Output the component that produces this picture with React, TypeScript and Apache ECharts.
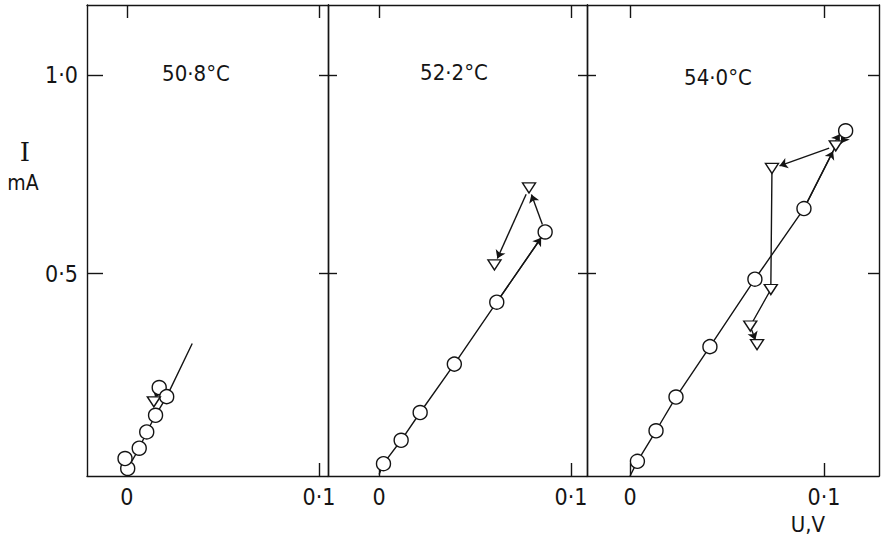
import React, { useEffect, useRef } from 'react';
import * as echarts from 'echarts';

// ---------- data ----------
const xTickValues = [0, 0.1];
const yTickValues = [0.5, 1.0];
const panelTitles = ['50·8°C', '52·2°C', '54·0°C'];
const yAxisTitle = 'I';
const yAxisUnit = 'mA';
const xAxisTitle = 'U,V';

// panel 1 (50.8 °C)
const p1Circles = [[0.0004, 0.009], [-0.001, 0.034], [0.0064, 0.060], [0.0103, 0.101], [0.0149, 0.143], [0.0168, 0.213], [0.0207, 0.190]];
const p1Triangles = [[0.014, 0.177]];
const p1FitEnd = [0.034, 0.324];

// panel 2 (52.2 °C)
const p2Origin = [0, -0.006];
const p2Circles = [[0.0023, 0.021], [0.0115, 0.080], [0.0214, 0.150], [0.0392, 0.272], [0.0613, 0.428], [0.0865, 0.605]];
const p2Triangles = [[0.0781, 0.716], [0.0601, 0.522]];

// panel 3 (54.0 °C)
const p3Origin = [0, -0.01];
const p3Circles = [[0.0038, 0.027], [0.0134, 0.104], [0.0237, 0.189], [0.0412, 0.316], [0.0644, 0.486], [0.0897, 0.664], [0.1112, 0.860]];
const p3Triangles = [[0.1061, 0.822], [0.0732, 0.765], [0.0726, 0.460], [0.0620, 0.368], [0.0655, 0.321]];

// ---------- styling / layout ----------
const INK = '#141414';
const FONT = "'DejaVu Sans Condensed', 'DejaVu Sans', sans-serif";
const GRID_TOP = 5;
const GRID_H = 471;
const Y_MIN = -0.01;
const Y_MAX = 1.177;
const panels = [
  { left: 87, width: 241, xMin: -0.0208, xMax: 0.1047 },
  { left: 328, width: 259, xMin: -0.0266, xMax: 0.1083 },
  { left: 587, width: 292, xMin: -0.0222, xMax: 0.1284 },
];
const LW = 1.4;

const fmt = (v: number) => (Math.abs(v) < 1e-9 ? '0' : v.toFixed(1).replace('.', '·'));

type Pt = number[];

function seg(i: number, p: Pt, q: Pt, startGap: number, endGap: number, offset = 0) {
  const P = panels[i];
  const kx = P.width / (P.xMax - P.xMin);
  const ky = GRID_H / (Y_MAX - Y_MIN);
  const dx = (q[0] - p[0]) * kx;
  const dy = (q[1] - p[1]) * ky;
  const len = Math.hypot(dx, dy) || 1;
  const ux = dx / len;
  const uy = dy / len;
  const ox = -uy * offset;
  const oy = ux * offset;
  return [
    [p[0] + (ux * startGap + ox) / kx, p[1] + (uy * startGap + oy) / ky],
    [q[0] - (ux * endGap - ox) / kx, q[1] - (uy * endGap - oy) / ky],
  ];
}

function App() {
  const ref = useRef<HTMLDivElement>(null);
  useEffect(() => {
    if (!ref.current) return;
    const chart = echarts.init(ref.current, undefined, { renderer: 'svg' });

    const grids = panels.map((p) => ({ left: p.left, top: GRID_TOP, width: p.width, height: GRID_H, containLabel: false }));
    const axisLine = { show: true, onZero: false, lineStyle: { color: INK, width: LW } };
    const xAxes: any[] = [];
    const yAxes: any[] = [];
    panels.forEach((p, i) => {
      xAxes.push({
        type: 'value', gridIndex: i, position: 'bottom', min: p.xMin, max: p.xMax,
        axisLine,
        axisTick: { show: true, inside: true, length: 13, customValues: xTickValues, lineStyle: { color: INK, width: LW } },
        axisLabel: { show: true, customValues: xTickValues, formatter: fmt, color: INK, fontFamily: FONT, fontSize: 23, margin: 9 },
        splitLine: { show: false },
      });
      xAxes.push({
        type: 'value', gridIndex: i, position: 'top', min: p.xMin, max: p.xMax,
        axisLine,
        axisTick: { show: true, inside: true, length: 13, customValues: xTickValues, lineStyle: { color: INK, width: LW } },
        axisLabel: { show: false },
        splitLine: { show: false },
      });
      yAxes.push({
        type: 'value', gridIndex: i, position: 'left', min: Y_MIN, max: Y_MAX,
        axisLine,
        axisTick: { show: true, inside: true, length: i === 0 ? 16 : 9, customValues: yTickValues, lineStyle: { color: INK, width: LW } },
        axisLabel: { show: i === 0, customValues: yTickValues, formatter: fmt, color: INK, fontFamily: FONT, fontSize: 23, margin: 9 },
        splitLine: { show: false },
      });
      yAxes.push({
        type: 'value', gridIndex: i, position: 'right', min: Y_MIN, max: Y_MAX,
        axisLine,
        axisTick: { show: true, inside: true, length: i === 2 ? 11 : 9, customValues: yTickValues, lineStyle: { color: INK, width: LW } },
        axisLabel: { show: false },
        splitLine: { show: false },
      });
    });

    const circleStyle = { color: '#ffffff', borderColor: INK, borderWidth: LW, opacity: 1 };
    const scatter = (i: number, data: Pt[], kind: 'circle' | 'triangle') => ({
      type: 'scatter', xAxisIndex: i * 2, yAxisIndex: i * 2, data,
      symbol: kind, symbolSize: kind === 'circle' ? 14 : [13, 10], symbolRotate: kind === 'circle' ? 0 : 180,
      itemStyle: circleStyle, z: 5, silent: true,
    });
    const path = (i: number, data: Pt[]) => ({
      type: 'line', xAxisIndex: i * 2, yAxisIndex: i * 2, data, symbol: 'none', showSymbol: false,
      lineStyle: { color: INK, width: LW, opacity: 1 }, z: 3, silent: true,
    });
    const arrows = (i: number, segs: Pt[][]) => ({
      type: 'lines', coordinateSystem: 'cartesian2d', xAxisIndex: i * 2, yAxisIndex: i * 2,
      symbol: ['none', 'arrow'], symbolSize: 8,
      itemStyle: { color: INK, opacity: 1 },
      lineStyle: { color: INK, width: LW, opacity: 1, curveness: 0 },
      data: segs.map((c) => ({ coords: c })), z: 4, silent: true,
    });

    const c1 = p1Circles, c2 = p2Circles, c3 = p3Circles, t1 = p1Triangles, t2 = p2Triangles, t3 = p3Triangles;

    const series: any[] = [
      // panel 1
      path(0, [c1[0], c1[2], c1[3], c1[4], c1[6], p1FitEnd]),
      arrows(0, [seg(0, c1[5], t1[0], 4, 4)]),
      scatter(0, c1, 'circle'),
      scatter(0, t1, 'triangle'),
      // panel 2
      path(1, [p2Origin, ...c2]),
      arrows(1, [seg(1, c2[4], c2[5], 7, 7), seg(1, c2[5], t2[0], 8, 7), seg(1, t2[0], t2[1], 7, 7)]),
      scatter(1, c2, 'circle'),
      scatter(1, t2, 'triangle'),
      // panel 3
      path(2, [p3Origin, ...c3.slice(0, 6), t3[0]]),
      path(2, [t3[1], t3[2], t3[3]]),
      arrows(2, [
        seg(2, c3[5], t3[0], 7, 6),
        seg(2, t3[0], c3[6], 4, 6, 3),
        seg(2, c3[6], t3[0], 6, 5, 3),
        seg(2, t3[0], t3[1], 7, 8),
        seg(2, t3[3], t3[4], 4, 5),
      ]),
      scatter(2, c3, 'circle'),
      scatter(2, t3, 'triangle'),
    ];

    const txt = (text: string, x: number, y: number, size: number, family = FONT) => ({
      type: 'text', x, y, silent: true,
      style: { text, fill: INK, font: `${size}px ${family}`, fontSize: size, fontFamily: family, align: 'center', verticalAlign: 'middle', textAlign: 'center', textVerticalAlign: 'middle' },
    });

    chart.setOption({
      animation: false,
      backgroundColor: '#ffffff',
      grid: grids,
      xAxis: xAxes,
      yAxis: yAxes,
      series,
      graphic: [
        txt(panelTitles[0], 196, 73, 22),
        txt(panelTitles[1], 454, 72, 22),
        txt(panelTitles[2], 718, 77, 22),
        txt(yAxisTitle, 25, 152, 26, "'DejaVu Serif', serif"),
        txt(yAxisUnit, 23, 183, 21),
        txt(xAxisTitle, 808, 524, 22),
      ],
    });
    return () => chart.dispose();
  }, []);
  return <div ref={ref} style={{ position: 'fixed', left: 0, top: 0, width: 884, height: 542, background: '#fff' }} />;
}

export default App;
